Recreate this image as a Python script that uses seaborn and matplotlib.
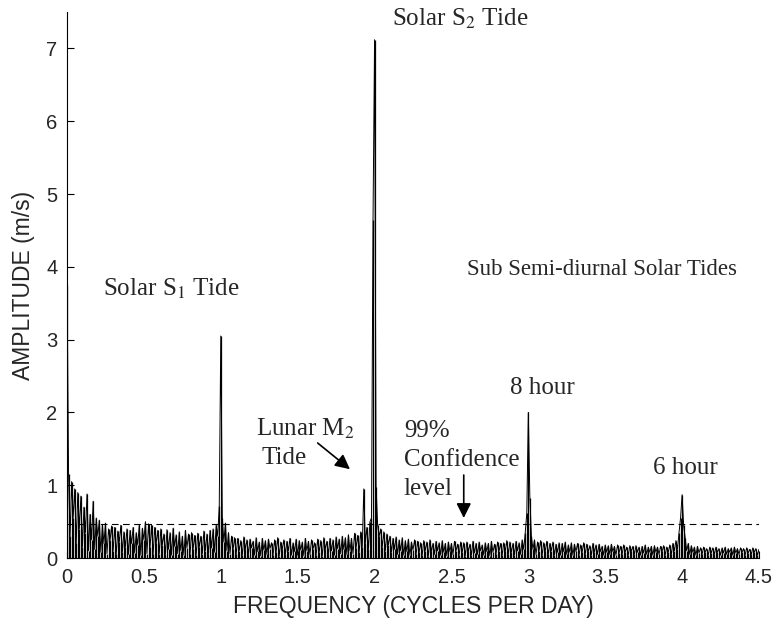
import numpy as np
import pandas as pd
import matplotlib
matplotlib.use('Agg')
import matplotlib.pyplot as plt
import seaborn as sns

# Amplitude spectrum (m/s), every 0.01 cycles/day, 0 .. 4.5
amplitude = [
    3.75, 1.15, 0.30, 1.05, 0.55, 0.95, 0.20, 0.90, 0.40, 0.85,  # 0.0
    0.15, 0.70, 0.35, 0.88, 0.10, 0.60, 0.25, 0.78, 0.12, 0.55,  # 0.1
    0.30, 0.52, 0.08, 0.46, 0.20, 0.48, 0.06, 0.40, 0.25, 0.44,  # 0.2
    0.10, 0.42, 0.05, 0.37, 0.22, 0.45, 0.08, 0.36, 0.15, 0.40,  # 0.3
    0.05, 0.38, 0.20, 0.42, 0.07, 0.35, 0.18, 0.46, 0.04, 0.41,  # 0.4
    0.25, 0.50, 0.06, 0.47, 0.15, 0.45, 0.05, 0.42, 0.20, 0.38,  # 0.5
    0.06, 0.40, 0.18, 0.33, 0.05, 0.39, 0.12, 0.35, 0.04, 0.41,  # 0.6
    0.16, 0.32, 0.06, 0.36, 0.10, 0.30, 0.04, 0.38, 0.14, 0.33,  # 0.7
    0.05, 0.35, 0.12, 0.31, 0.04, 0.34, 0.15, 0.30, 0.06, 0.37,  # 0.8
    0.10, 0.33, 0.05, 0.38, 0.14, 0.40, 0.08, 0.45, 0.30, 0.72,  # 0.9
    3.05, 0.55, 0.22, 0.48, 0.10, 0.35, 0.06, 0.30, 0.12, 0.28,  # 1.0
    0.05, 0.27, 0.10, 0.24, 0.04, 0.29, 0.12, 0.25, 0.05, 0.26,  # 1.1
    0.14, 0.23, 0.04, 0.28, 0.09, 0.22, 0.03, 0.27, 0.11, 0.24,  # 1.2
    0.05, 0.26, 0.13, 0.21, 0.04, 0.25, 0.08, 0.28, 0.03, 0.22,  # 1.3
    0.12, 0.25, 0.05, 0.23, 0.10, 0.27, 0.04, 0.21, 0.09, 0.26,  # 1.4
    0.04, 0.24, 0.11, 0.22, 0.03, 0.27, 0.10, 0.23, 0.05, 0.25,  # 1.5
    0.13, 0.21, 0.04, 0.26, 0.08, 0.24, 0.03, 0.28, 0.12, 0.23,  # 1.6
    0.05, 0.27, 0.10, 0.25, 0.04, 0.29, 0.13, 0.26, 0.06, 0.30,  # 1.7
    0.12, 0.28, 0.05, 0.32, 0.10, 0.27, 0.06, 0.34, 0.14, 0.31,  # 1.8
    0.08, 0.36, 0.15, 0.95, 0.20, 0.42, 0.12, 0.50, 0.55, 4.65,  # 1.9
    7.12, 0.98, 0.45, 0.30, 0.40, 0.15, 0.36, 0.10, 0.33, 0.18,  # 2.0
    0.30, 0.08, 0.27, 0.12, 0.29, 0.05, 0.25, 0.10, 0.28, 0.04,  # 2.1
    0.24, 0.09, 0.26, 0.04, 0.22, 0.11, 0.25, 0.05, 0.23, 0.08,  # 2.2
    0.21, 0.04, 0.24, 0.10, 0.22, 0.03, 0.25, 0.09, 0.20, 0.05,  # 2.3
    0.23, 0.10, 0.21, 0.04, 0.24, 0.08, 0.20, 0.03, 0.22, 0.09,  # 2.4
    0.20, 0.05, 0.23, 0.10, 0.19, 0.04, 0.22, 0.08, 0.21, 0.03,  # 2.5
    0.22, 0.09, 0.19, 0.04, 0.23, 0.07, 0.20, 0.05, 0.22, 0.10,  # 2.6
    0.18, 0.04, 0.21, 0.09, 0.20, 0.03, 0.23, 0.08, 0.19, 0.05,  # 2.7
    0.22, 0.10, 0.20, 0.04, 0.21, 0.09, 0.24, 0.05, 0.22, 0.08,  # 2.8
    0.20, 0.04, 0.23, 0.10, 0.21, 0.05, 0.25, 0.12, 0.35, 0.62,  # 2.9
    2.00, 0.82, 0.30, 0.12, 0.25, 0.05, 0.22, 0.10, 0.24, 0.04,  # 3.0
    0.21, 0.09, 0.23, 0.05, 0.20, 0.10, 0.22, 0.04, 0.19, 0.08,  # 3.1
    0.21, 0.04, 0.20, 0.09, 0.22, 0.05, 0.18, 0.08, 0.21, 0.04,  # 3.2
    0.19, 0.09, 0.20, 0.04, 0.18, 0.08, 0.21, 0.05, 0.19, 0.09,  # 3.3
    0.17, 0.04, 0.20, 0.08, 0.18, 0.05, 0.19, 0.09, 0.16, 0.04,  # 3.4
    0.18, 0.08, 0.17, 0.05, 0.19, 0.09, 0.16, 0.04, 0.18, 0.07,  # 3.5
    0.16, 0.05, 0.18, 0.08, 0.15, 0.04, 0.17, 0.09, 0.16, 0.05,  # 3.6
    0.17, 0.08, 0.15, 0.04, 0.16, 0.07, 0.18, 0.05, 0.15, 0.08,  # 3.7
    0.16, 0.04, 0.17, 0.08, 0.15, 0.05, 0.16, 0.09, 0.17, 0.04,  # 3.8
    0.15, 0.08, 0.18, 0.05, 0.20, 0.10, 0.24, 0.12, 0.35, 0.55,  # 3.9
    0.87, 0.45, 0.28, 0.10, 0.20, 0.05, 0.17, 0.08, 0.15, 0.04,  # 4.0
    0.16, 0.07, 0.14, 0.05, 0.15, 0.08, 0.13, 0.04, 0.15, 0.07,  # 4.1
    0.14, 0.05, 0.15, 0.08, 0.13, 0.04, 0.14, 0.07, 0.15, 0.05,  # 4.2
    0.13, 0.08, 0.14, 0.04, 0.15, 0.07, 0.13, 0.05, 0.14, 0.08,  # 4.3
    0.13, 0.04, 0.14, 0.07, 0.12, 0.05, 0.14, 0.08, 0.13, 0.04,  # 4.4
    0.12,                                                        # 4.5
]
freq_step = 0.01
frequency = np.round(np.arange(len(amplitude)) * freq_step, 2)
conf_level = 0.47

x_ticks = [0, 0.5, 1, 1.5, 2, 2.5, 3, 3.5, 4, 4.5]
x_labels = ['0', '0.5', '1', '1.5', '2', '2.5', '3', '3.5', '4', '4.5']
y_ticks = [0, 1, 2, 3, 4, 5, 6, 7]

df = pd.DataFrame({'freq': frequency, 'amp': amplitude})

sns.set_style('ticks')
plt.rcParams['font.family'] = ['Liberation Sans', 'DejaVu Sans']
plt.rcParams['mathtext.fontset'] = 'stix'
plt.rcParams['xtick.direction'] = 'in'
plt.rcParams['ytick.direction'] = 'in'

fig = plt.figure(figsize=(7.74, 6.19), dpi=100)
ax = fig.add_axes([0.0866, 0.0985, 0.894, 0.882])

sns.lineplot(data=df, x='freq', y='amp', color='black', linewidth=0.7,
             estimator=None, ax=ax)
# stems under the curve give the dense, filled look of the original spectrum
ax.vlines(df['freq'], 0, df['amp'], color='black', linewidth=0.9)
ax.axhline(conf_level, color='black', linestyle=(0, (6, 4)), linewidth=0.8)

ax.set_xlim(0, 4.5)
ax.set_ylim(0, 7.5)
ax.set_xticks(x_ticks)
ax.set_xticklabels(x_labels)
ax.set_yticks(y_ticks)
ax.tick_params(labelsize=14.5, length=5, width=0.8, color='black', pad=7)
ax.set_xlabel('FREQUENCY (CYCLES PER DAY)', fontsize=16.5, labelpad=6)
ax.set_ylabel('AMPLITUDE (m/s)', fontsize=16.5, labelpad=8)
for s in ['top', 'right']:
    ax.spines[s].set_visible(False)
for s in ['left', 'bottom']:
    ax.spines[s].set_color('black')
    ax.spines[s].set_linewidth(0.8)

serif = ['Liberation Serif', 'DejaVu Serif']
fs = 18
ax.text(0.68, 3.70, r'Solar S$_1$ Tide', family=serif, fontsize=fs, ha='center', va='center')
ax.text(2.115, 7.41, r'Solar S$_2$ Tide', family=serif, fontsize=fs, ha='left', va='center')
ax.text(2.60, 3.96, 'Sub Semi-diurnal Solar Tides', family=serif, fontsize=16.5, ha='left', va='center')
ax.text(3.09, 2.34, '8 hour', family=serif, fontsize=fs, ha='center', va='center')
ax.text(4.02, 1.23, '6 hour', family=serif, fontsize=fs, ha='center', va='center')
ax.text(1.55, 1.77, r'Lunar M$_2$', family=serif, fontsize=fs, ha='center', va='center')
ax.text(1.41, 1.37, 'Tide', family=serif, fontsize=fs, ha='center', va='center')
ax.text(2.19, 1.74, '99%', family=serif, fontsize=fs, ha='left', va='center')
ax.text(2.19, 1.34, 'Confidence', family=serif, fontsize=fs, ha='left', va='center')
ax.text(2.19, 0.95, 'level', family=serif, fontsize=fs, ha='left', va='center')

arrow = dict(arrowstyle='-|>', color='black', lw=1.2, mutation_scale=22, shrinkA=0, shrinkB=0)
ax.annotate('', xy=(1.84, 1.22), xytext=(1.63, 1.58), arrowprops=arrow)
ax.annotate('', xy=(2.58, 0.55), xytext=(2.58, 1.14), arrowprops=arrow)

fig.savefig('out.png', dpi=100)
